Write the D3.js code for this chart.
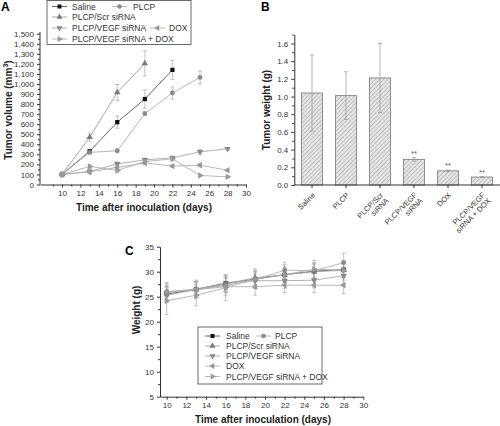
<!DOCTYPE html>
<html><head><meta charset="utf-8">
<script src="https://cdn.jsdelivr.net/npm/d3@7"></script>
<style>
body{margin:0;background:#fff;}
svg{font-family:"Liberation Sans",Arial,sans-serif;}
</style></head>
<body><svg id="c" width="500" height="426"></svg>
<script>
// ---------- Data ----------
const days = [10, 13, 16, 19, 22, 25, 28];
const seriesNames = ["Saline", "PLCP", "PLCP/Scr siRNA", "PLCP/VEGF siRNA", "DOX", "PLCP/VEGF siRNA + DOX"];
// Panel A: tumor volume (mm3), null = no measurement
const volSaline = [100, 330, 620, 850, 1140, null, null];
const volPLCP   = [100, 320, 335, 705, 910, 1065, null];
const volScr    = [100, 470, 915, 1205, null, null, null];
const volVEGF   = [100, 130, 205, 245, 265, 325, 355];
const volDOX    = [100, 125, 170, 215, 183, 192, 142];
const volCombo  = [100, 180, 140, 228, 255, 90, 76];
const errSaline = [8, 20, 60, 90, 95, null, null];
const errPLCP   = [8, 20, 20, 20, 60, 65, null];
const errScr    = [8, 40, 80, 125, null, null, null];
const errVEGF   = [8, 15, 20, 20, 20, 25, 10];
const errDOX    = [8, 15, 20, 20, 15, 15, 10];
const errCombo  = [8, 20, 20, 20, 20, 10, 8];
// Panel B: tumor weight (g)
const bLabels = ["Saline", "PLCP", "PLCP/Scr\nsiRNA", "PLCP/VEGF\nsiRNA", "DOX", "PLCP/VEGF\nsiRNA + DOX"];
const bWeight = [1.04, 1.01, 1.21, 0.29, 0.16, 0.09];
const bErr    = [0.43, 0.27, 0.39, 0.02, 0.01, 0.005];
const bSig    = ["", "", "", "**", "**", "**"];
// Panel C: body weight (g)
const wSaline = [25.5, 26.5, 27.7, 28.5, 29.4, 30.1, 30.4];
const wPLCP   = [26.0, 26.5, 27.6, 28.4, 30.3, 30.2, 31.8];
const wScr    = [25.8, 26.4, 27.5, 28.8, 29.4, 30.0, 30.3];
const wVEGF   = [25.3, 26.4, 27.3, 28.2, 28.2, 28.3, 29.2];
const wDOX    = [26.0, 26.4, 27.0, 27.0, 27.3, 27.3, 27.3];
const wCombo  = [24.2, 25.3, 26.8, 28.6, 29.4, 30.5, 30.3];
const wErrSaline = [1.6, 1.5, 1.5, 1.5, 1.5, 1.5, 1.6];
const wErrPLCP   = [1.8, 1.8, 1.7, 1.7, 1.6, 1.6, 1.9];
const wErrScr    = [1.5, 1.5, 1.5, 1.5, 1.5, 1.5, 1.5];
const wErrVEGF   = [1.5, 1.5, 1.5, 1.5, 1.5, 1.5, 1.5];
const wErrDOX    = [1.7, 1.7, 1.7, 1.7, 1.5, 1.5, 1.7];
const wErrCombo  = [2.8, 2.1, 2.6, 2.0, 2.0, 1.8, 2.0];
const aTicksY = d3.range(0, 1501, 100);
const xTicks = d3.range(10, 31, 2);

// ---------- Styles ----------
const symbols = [d3.symbolSquare, d3.symbolCircle, d3.symbolTriangle, "down", "left", "right"];
const markColors = ["#111", "#8a8a8a", "#7a7a7a", "#8a8a8a", "#999", "#999"];
const lineColors = ["#555", "#b0b0b0", "#a0a0a0", "#a8a8a8", "#b0b0b0", "#b0b0b0"];

const svg = d3.select("#c");

function marker(g, i, x, y, size) {
  const s = symbols[i];
  let type = s, rot = 0;
  if (s === "down") { type = d3.symbolTriangle; rot = 180; }
  if (s === "left") { type = d3.symbolTriangle; rot = -90; }
  if (s === "right") { type = d3.symbolTriangle; rot = 90; }
  g.append("path").attr("d", d3.symbol().type(type).size(size)())
    .attr("transform", `translate(${x},${y}) rotate(${rot})`)
    .attr("fill", markColors[i]);
}

function styleAxis(g) {
  g.selectAll("path.domain").attr("stroke", "#333").attr("stroke-width", 1);
  g.selectAll(".tick line").attr("stroke", "#333");
  g.selectAll(".tick text").attr("fill", "#333").attr("font-size", 8);
}

function minorAxis(g, axisFn, scale, vals, size) {
  const a = axisFn(scale).tickValues(vals).tickSize(size).tickFormat("");
  g.call(a);
  g.select("path.domain").remove();
  g.selectAll(".tick line").attr("stroke", "#333");
}

function lineChart(opts) {
  const { x, y, data, errs, g } = opts;
  data.forEach((vals, i) => {
    const pts = days.map((d, k) => ({ d, v: vals[k], e: errs[i][k] })).filter(p => p.v != null);
    g.append("path").datum(pts)
      .attr("d", d3.line().x(p => x(p.d)).y(p => y(p.v)))
      .attr("fill", "none").attr("stroke", lineColors[i]).attr("stroke-width", 0.9);
    pts.forEach(p => {
      const cx = x(p.d);
      g.append("line").attr("x1", cx).attr("x2", cx).attr("y1", y(p.v - p.e)).attr("y2", y(p.v + p.e))
        .attr("stroke", "#aaa").attr("stroke-width", 0.7);
      [p.v - p.e, p.v + p.e].forEach(v => g.append("line").attr("x1", cx - 2).attr("x2", cx + 2)
        .attr("y1", y(v)).attr("y2", y(v)).attr("stroke", "#aaa").attr("stroke-width", 0.7));
    });
  });
  data.forEach((vals, i) => {
    days.forEach((d, k) => { if (vals[k] != null) marker(g, i, x(d), y(vals[k]), 18); });
  });
}

function legendItem(g, i, x0, yy, textX) {
  g.append("line").attr("x1", x0).attr("x2", x0 + 15).attr("y1", yy).attr("y2", yy)
    .attr("stroke", lineColors[i]).attr("stroke-width", 0.9);
  marker(g, i, x0 + 7.5, yy, 16);
  g.append("text").attr("x", textX).attr("y", yy + 3).attr("font-size", 8.5).attr("fill", "#333").text(seriesNames[i]);
}

// ---------- Panel A ----------
{
  const g = svg.append("g");
  const x = d3.scaleLinear().domain([7.6, 30]).range([40, 246]);
  const y = d3.scaleLinear().domain([0, 1500]).range([184.5, 33.7]);
  const xa = g.append("g").attr("transform", "translate(0,184.5)")
    .call(d3.axisBottom(x).tickValues(xTicks).tickSize(3).tickSizeOuter(0).tickFormat(d3.format("d")));
  styleAxis(xa);
  minorAxis(g.append("g").attr("transform", "translate(0,184.5)"), d3.axisBottom, x, d3.range(9, 30, 2), 2);
  const ya = g.append("g").attr("transform", "translate(40,0)")
    .call(d3.axisLeft(y).tickValues(aTicksY).tickSize(3).tickSizeOuter(0).tickFormat(d3.format(",")));
  styleAxis(ya);
  ya.select("path.domain").attr("d", `M0,${y(0)}V32`);
  minorAxis(g.append("g").attr("transform", "translate(40,0)"), d3.axisLeft, y, d3.range(50, 1500, 100), 2);
  g.append("text").attr("x", 144).attr("y", 211).attr("text-anchor", "middle")
    .attr("font-size", 10).attr("font-weight", "bold").attr("fill", "#222").text("Time after inoculation (days)");
  g.append("text").attr("transform", "translate(12,110) rotate(-90)").attr("text-anchor", "middle")
    .attr("font-size", 10).attr("font-weight", "bold").attr("fill", "#222")
    .html('Tumor volume (mm<tspan font-size="7" dy="-4">3</tspan><tspan dy="4">)</tspan>');
  g.append("text").attr("x", 1).attr("y", 11).attr("font-size", 12).attr("font-weight", "bold").text("A");
  lineChart({ x, y, g, data: [volSaline, volPLCP, volScr, volVEGF, volDOX, volCombo],
    errs: [errSaline, errPLCP, errScr, errVEGF, errDOX, errCombo] });
  // legend
  const lg = g.append("g");
  lg.append("rect").attr("x", 47).attr("y", 0.5).attr("width", 144).attr("height", 44)
    .attr("fill", "#fff").attr("stroke", "#444").attr("stroke-width", 0.8);
  legendItem(lg, 0, 52, 6.5, 72);
  legendItem(lg, 1, 112, 6.5, 133);
  legendItem(lg, 2, 52, 17, 72);
  legendItem(lg, 3, 52, 28, 72);
  legendItem(lg, 4, 150, 28, 169);
  legendItem(lg, 5, 52, 39, 72);
}

// ---------- Panel B ----------
{
  const g = svg.append("g");
  const defs = svg.append("defs");
  const pat = defs.append("pattern").attr("id", "hatch").attr("patternUnits", "userSpaceOnUse")
    .attr("width", 3).attr("height", 3).attr("patternTransform", "rotate(45)");
  pat.append("rect").attr("width", 3).attr("height", 3).attr("fill", "#e6e6e6");
  pat.append("line").attr("x1", 0).attr("y1", 0).attr("x2", 0).attr("y2", 3).attr("stroke", "#9a9a9a").attr("stroke-width", 1);
  const x = d3.scaleBand().domain(bLabels).range([295, 499]).paddingInner(0.38).paddingOuter(0.19);
  const y = d3.scaleLinear().domain([0, 1.7]).range([185, 34.6]);
  bLabels.forEach((l, i) => {
    const bx = x(l), bw = x.bandwidth();
    g.append("rect").attr("x", bx).attr("y", y(bWeight[i])).attr("width", bw).attr("height", y(0) - y(bWeight[i]))
      .attr("fill", "url(#hatch)").attr("stroke", "#777").attr("stroke-width", 0.8);
    const cx = bx + bw / 2;
    g.append("line").attr("x1", cx).attr("x2", cx).attr("y1", y(bWeight[i] - bErr[i])).attr("y2", y(bWeight[i] + bErr[i]))
      .attr("stroke", "#999").attr("stroke-width", 0.7);
    [bWeight[i] - bErr[i], bWeight[i] + bErr[i]].forEach(v => g.append("line").attr("x1", cx - 2).attr("x2", cx + 2)
      .attr("y1", y(v)).attr("y2", y(v)).attr("stroke", "#999").attr("stroke-width", 0.7));
    if (bSig[i]) g.append("text").attr("x", cx).attr("y", y(bWeight[i] + bErr[i]) - 2).attr("text-anchor", "middle")
      .attr("font-size", 7.5).attr("fill", "#555").text(bSig[i]);
  });
  const xa = g.append("g").attr("transform", "translate(0,185)")
    .call(d3.axisBottom(x).tickSize(3).tickSizeOuter(0).tickFormat(""));
  styleAxis(xa);
  xa.select("path.domain").attr("d", `M294.3,0H500`);
  xa.selectAll(".tick").each(function (l) {
    const lines = l.split("\n");
    const t = d3.select(this).append("text").attr("transform", "translate(2,9) rotate(-45)")
      .attr("text-anchor", "end").attr("font-size", 7.5).attr("fill", "#333");
    lines.forEach((s, k) => t.append("tspan").attr("x", 0).attr("dy", k === 0 ? "0.3em" : "1.05em").text(s));
  });
  const ya = g.append("g").attr("transform", "translate(294.3,0)")
    .call(d3.axisLeft(y).tickValues(d3.range(0, 1.61, 0.2)).tickSize(3).tickSizeOuter(0).tickFormat(d3.format(".1f")));
  styleAxis(ya);
  minorAxis(g.append("g").attr("transform", "translate(294.3,0)"), d3.axisLeft, y, d3.range(0.1, 1.71, 0.2), 2);
  g.append("text").attr("transform", "translate(270,110) rotate(-90)").attr("text-anchor", "middle")
    .attr("font-size", 10).attr("font-weight", "bold").attr("fill", "#222").text("Tumor weight (g)");
  g.append("text").attr("x", 261).attr("y", 11).attr("font-size", 12).attr("font-weight", "bold").text("B");
}

// ---------- Panel C ----------
{
  const g = svg.append("g");
  const x = d3.scaleLinear().domain([9.32, 30]).range([160, 363.3]);
  const y = d3.scaleLinear().domain([5, 35]).range([396.7, 246.7]);
  const xa = g.append("g").attr("transform", "translate(0,396.7)")
    .call(d3.axisBottom(x).tickValues(xTicks).tickSize(3).tickSizeOuter(0).tickFormat(d3.format("d")));
  styleAxis(xa);
  minorAxis(g.append("g").attr("transform", "translate(0,396.7)"), d3.axisBottom, x, d3.range(11, 30, 2), 2);
  const ya = g.append("g").attr("transform", "translate(160,0)")
    .call(d3.axisLeft(y).tickValues(d3.range(5, 36, 5)).tickSize(3).tickSizeOuter(0));
  styleAxis(ya);
  minorAxis(g.append("g").attr("transform", "translate(160,0)"), d3.axisLeft, y, d3.range(7.5, 35, 5), 2);
  g.append("text").attr("x", 263).attr("y", 423).attr("text-anchor", "middle")
    .attr("font-size", 10).attr("font-weight", "bold").attr("fill", "#222").text("Time after inoculation (days)");
  g.append("text").attr("transform", "translate(140,310) rotate(-90)").attr("text-anchor", "middle")
    .attr("font-size", 10).attr("font-weight", "bold").attr("fill", "#222").text("Weight (g)");
  g.append("text").attr("x", 125).attr("y", 255).attr("font-size", 12).attr("font-weight", "bold").text("C");
  lineChart({ x, y, g, data: [wSaline, wPLCP, wScr, wVEGF, wDOX, wCombo],
    errs: [wErrSaline, wErrPLCP, wErrScr, wErrVEGF, wErrDOX, wErrCombo] });
  const lg = g.append("g");
  lg.append("rect").attr("x", 198).attr("y", 327).attr("width", 124).attr("height", 57)
    .attr("fill", "#fff").attr("stroke", "#444").attr("stroke-width", 0.8);
  legendItem(lg, 0, 205, 336, 226);
  legendItem(lg, 1, 256, 336, 275);
  legendItem(lg, 2, 205, 346, 226);
  legendItem(lg, 3, 205, 356, 226);
  legendItem(lg, 4, 205, 366, 226);
  legendItem(lg, 5, 205, 376.5, 226);
}
</script></body></html>
